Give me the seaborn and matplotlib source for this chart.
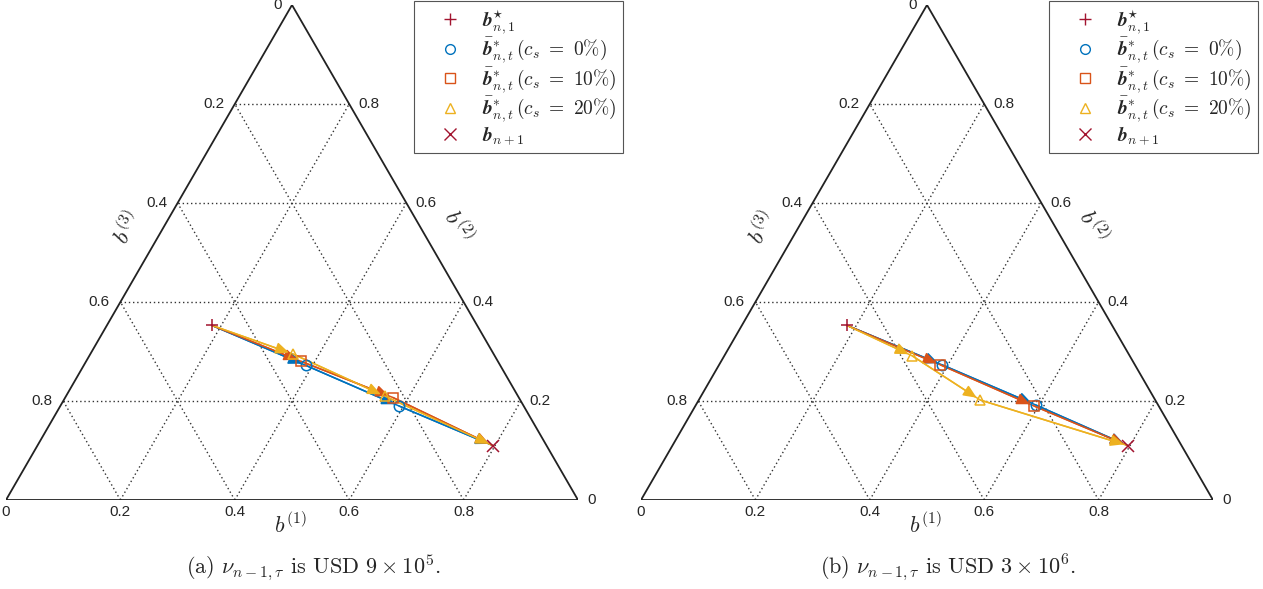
import numpy as np
import pandas as pd
import matplotlib
matplotlib.use("Agg")
import matplotlib.pyplot as plt
from matplotlib.lines import Line2D
import seaborn as sns

# ---------------- data (barycentric coordinates b1, b2; b3 = 1 - b1 - b2) ----------------
START_B1 = 0.183
START_B2 = 0.353
END_B1 = 0.796
END_B2 = 0.110

COST_LEVELS = ["0%", "10%", "20%"]

# panel (a): nu = USD 9e5 ; intermediate portfolios for each transaction cost
A_CS0_B1 = [0.388, 0.592]
A_CS0_B2 = [0.272, 0.190]
A_CS10_B1 = [0.376, 0.573]
A_CS10_B2 = [0.280, 0.207]
A_CS20_B1 = [0.354, 0.557]
A_CS20_B2 = [0.295, 0.210]

# panel (b): nu = USD 3e6
B_CS0_B1 = [0.390, 0.594]
B_CS0_B2 = [0.273, 0.192]
B_CS10_B1 = [0.387, 0.592]
B_CS10_B2 = [0.273, 0.190]
B_CS20_B1 = [0.329, 0.492]
B_CS20_B2 = [0.291, 0.202]

TICKS = [0.0, 0.2, 0.4, 0.6, 0.8]
TICK_LABELS = ["0", "0.2", "0.4", "0.6", "0.8"]

CAPTIONS = [r"(a) $\nu_{n-1,\tau}$ is USD $9\times10^5$.",
            r"(b) $\nu_{n-1,\tau}$ is USD $3\times10^6$."]

# ---------------- style ----------------
sns.set_theme(style="white")
plt.rcParams["font.family"] = ["Liberation Sans", "DejaVu Sans"]
plt.rcParams["mathtext.fontset"] = "cm"

COLORS = ["#0072BD", "#D95319", "#EDB120"]
MARKERS = ["o", "s", "^"]
DARKRED = "#A2142F"
S3 = np.sqrt(3) / 2


def proj(b1, b2):
    b1 = np.asarray(b1, dtype=float)
    b2 = np.asarray(b2, dtype=float)
    return b1 + b2 / 2.0, b2 * S3


W, H = 1263, 589
fig = plt.figure(figsize=(W / 100, H / 100), dpi=100)

panel_series = [
    [(A_CS0_B1, A_CS0_B2), (A_CS10_B1, A_CS10_B2), (A_CS20_B1, A_CS20_B2)],
    [(B_CS0_B1, B_CS0_B2), (B_CS10_B1, B_CS10_B2), (B_CS20_B1, B_CS20_B2)],
]
panel_left_px = [6, 641]
legend_right_px = [623, 1258]
caption_x_px = [313, 948]

leg_labels = [r"$\mathbfit{b}^{\star}_{n,1}$"] + [
    r"$\bar{\mathbfit{b}}^{*}_{n,t}\,(c_s\ =\ %s)$" % lv.replace("%", r"\%")
    for lv in COST_LEVELS
] + [r"$\mathbfit{b}_{n+1}$"]

for p in range(2):
    ax = fig.add_axes([panel_left_px[p] / W, 89 / H, 572 / W, 495 / H])
    ax.set_xlim(0, 1)
    ax.set_ylim(0, S3)
    ax.axis("off")

    # grid lines
    for t in TICKS[1:]:
        for (a1, a2), (c1, c2) in [((0, t), (1 - t, t)),
                                   ((t, 0), (t, 1 - t)),
                                   ((1 - t, 0), (0, 1 - t))]:
            gx, gy = proj([a1, c1], [a2, c2])
            ax.plot(gx, gy, color="#333333", lw=1.0, ls=(0, (1, 2)), zorder=1)

    # outer triangle
    tx, ty = proj([0, 1, 0, 0], [0, 0, 1, 0])
    ax.plot(tx, ty, color="#222222", lw=1.3, zorder=2, solid_joinstyle="miter")

    # tick labels
    for t, lab in zip(TICKS, TICK_LABELS):
        bx, by = proj(t, 0)
        ax.annotate(lab, (bx, by), xytext=(0, -9), textcoords="offset points",
                    ha="center", va="center", fontsize=11, annotation_clip=False)
        lx, ly = proj(0, 1 - t)
        ax.annotate(lab, (lx, ly), xytext=(-7.5, 0), textcoords="offset points",
                    ha="right", va="center", fontsize=11, annotation_clip=False)
        rx, ry = proj(1 - t, t)
        ax.annotate(lab, (rx, ry), xytext=(6.5, 0), textcoords="offset points",
                    ha="left", va="center", fontsize=11, annotation_clip=False)

    # axis labels
    ax.text(0.497, -0.044, r"$b^{(1)}$", fontsize=16, ha="center", va="center", clip_on=False)
    ax.text(0.213, 0.476, r"$b^{(3)}$", fontsize=16, ha="center", va="center", rotation=60, clip_on=False)
    ax.text(0.789, 0.478, r"$b^{(2)}$", fontsize=16, ha="center", va="center", rotation=-60, clip_on=False)

    # paths
    for (b1s, b2s), c, m in zip(panel_series[p], COLORS, MARKERS):
        full_b1 = [START_B1] + list(b1s) + [END_B1]
        full_b2 = [START_B2] + list(b2s) + [END_B2]
        xs, ys = proj(full_b1, full_b2)
        df = pd.DataFrame({"x": xs, "y": ys, "step": range(len(xs))})
        sns.lineplot(data=df, x="x", y="y", sort=False, estimator=None,
                     color=c, lw=1.1, ax=ax, legend=False, zorder=3)
        for i in range(len(xs) - 1):
            ax.annotate("", xy=(xs[i + 1], ys[i + 1]), xytext=(xs[i], ys[i]),
                        arrowprops=dict(arrowstyle="-|>,head_length=0.8,head_width=0.35",
                                        color=c, lw=1.1, shrinkA=0, shrinkB=3,
                                        mutation_scale=10), zorder=4)
        ax.plot(xs[1:-1], ys[1:-1], ls="none", marker=m, ms=7.5, mfc="none",
                mec=c, mew=1.1, zorder=5)

    sx, sy = proj(START_B1, START_B2)
    ex, ey = proj(END_B1, END_B2)
    ax.plot([sx], [sy], ls="none", marker="+", ms=9, mew=1.1, color=DARKRED, zorder=6)
    ax.plot([ex], [ey], ls="none", marker="x", ms=8, mew=1.1, color=DARKRED, zorder=6)

    ax.set_xlabel("")
    ax.set_ylabel("")

    handles = [Line2D([], [], ls="none", marker="+", ms=9, mew=1.0, color=DARKRED)]
    handles += [Line2D([], [], ls="none", marker=m, ms=7, mfc="none", mec=c, mew=1.0)
                for c, m in zip(COLORS, MARKERS)]
    handles += [Line2D([], [], ls="none", marker="x", ms=8, mew=1.0, color=DARKRED)]
    leg = ax.legend(handles, leg_labels, loc="upper right",
                    bbox_to_anchor=(legend_right_px[p] / W, 1 - 1 / H),
                    bbox_transform=fig.transFigure, fontsize=14,
                    frameon=True, fancybox=False, framealpha=1,
                    edgecolor="#555555", handlelength=3.0, handletextpad=0.15,
                    borderpad=0.35, labelspacing=0.0, borderaxespad=0,
                    numpoints=1)
    leg.get_frame().set_linewidth(0.8)

    fig.text(caption_x_px[p] / W, 1 - 568 / H, CAPTIONS[p], ha="center", va="center",
             fontsize=16, family="cmr10")

fig.savefig("out.png", dpi=100)
